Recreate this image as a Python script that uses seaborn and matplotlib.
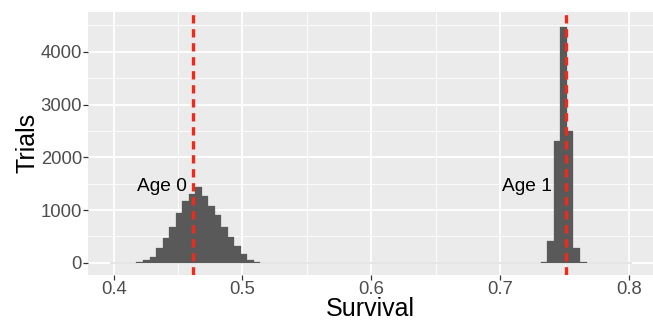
import numpy as np
import pandas as pd
import matplotlib
matplotlib.use("Agg")
import matplotlib.pyplot as plt
import seaborn as sns

# --------------------------
# Data (bin centres and trial counts)
# --------------------------
age0_survival = [0.4101, 0.4152, 0.4203, 0.4253, 0.4304, 0.4354, 0.4405, 0.4456,
                 0.4506, 0.4557, 0.4608, 0.4658, 0.4709, 0.4759, 0.4810, 0.4861,
                 0.4911, 0.4962, 0.5013, 0.5063, 0.5114, 0.5165]
age0_trials = [2, 4, 10, 45, 102, 285, 475, 683, 948, 1170, 1296, 1445,
               1271, 1081, 904, 683, 493, 323, 159, 51, 10, 3]

age1_survival = [0.7342, 0.7392, 0.7443, 0.7494, 0.7544, 0.7595, 0.7646]
age1_trials = [15, 411, 2307, 4462, 2502, 284, 15]

mean_survival = [0.4617, 0.7515]
labels = ["Age 0", "Age 1"]
label_x = [0.4568, 0.7402]
label_y = [1450, 1450]

x_ticks = [0.4, 0.5, 0.6, 0.7, 0.8]
x_minor = [0.45, 0.55, 0.65, 0.75]
y_ticks = [0, 1000, 2000, 3000, 4000]
y_minor = [500, 1500, 2500, 3500, 4500]

df = pd.DataFrame({
    "Survival": age0_survival + age1_survival,
    "Trials": age0_trials + age1_trials,
})

# 80 bins spanning the 0.4 - 0.8 limits (ggplot style)
width = 0.4 / 79
edges = list(0.4 - width / 2 + width * np.arange(81))

# --------------------------
# Style
# --------------------------
sns.set_theme(style="darkgrid", rc={
    "axes.facecolor": "#EBEBEB",
    "grid.color": "white",
})
plt.rcParams['font.family'] = ['Liberation Sans', 'DejaVu Sans']

fig = plt.figure(figsize=(6.53, 3.21), dpi=100)
ax = fig.add_axes([0.1352, 0.1433, 0.8648, 0.8203])

sns.histplot(data=df, x="Survival", weights="Trials", bins=edges,
             color="#595959", alpha=1, edgecolor="#595959", linewidth=0.2, ax=ax)

for m in mean_survival:
    ax.axvline(m, color="#EE2A1E", linewidth=2.4, dashes=(2.5, 1.7), zorder=3)

for lab, lx, ly in zip(labels, label_x, label_y):
    ax.text(lx, ly, lab, ha="right", va="center", fontsize=13.8, color="black")

ax.set_xlim(0.3803, 0.8187)
ax.set_ylim(-230, 4760)
ax.set_xticks(x_ticks)
ax.set_xticklabels([f"{t:.1f}" for t in x_ticks])
ax.set_xticks(x_minor, minor=True)
ax.set_yticks(y_ticks)
ax.set_yticklabels([str(t) for t in y_ticks])
ax.set_yticks(y_minor, minor=True)

ax.grid(which="major", color="white", linewidth=1.3)
ax.grid(which="minor", color="white", linewidth=0.6)
ax.set_axisbelow(True)

ax.tick_params(which="major", length=3.5, width=0.9, color="#333333",
               labelsize=13.3, labelcolor="#4D4D4D", pad=1,
               bottom=True, left=True)
ax.tick_params(which="minor", length=0)
for s in ax.spines.values():
    s.set_visible(False)

ax.set_xlabel("Survival", fontsize=18, color="black", labelpad=-1)
ax.set_ylabel("Trials", fontsize=18, color="black", labelpad=1)

plt.savefig("out.png", dpi=100)
plt.close()
